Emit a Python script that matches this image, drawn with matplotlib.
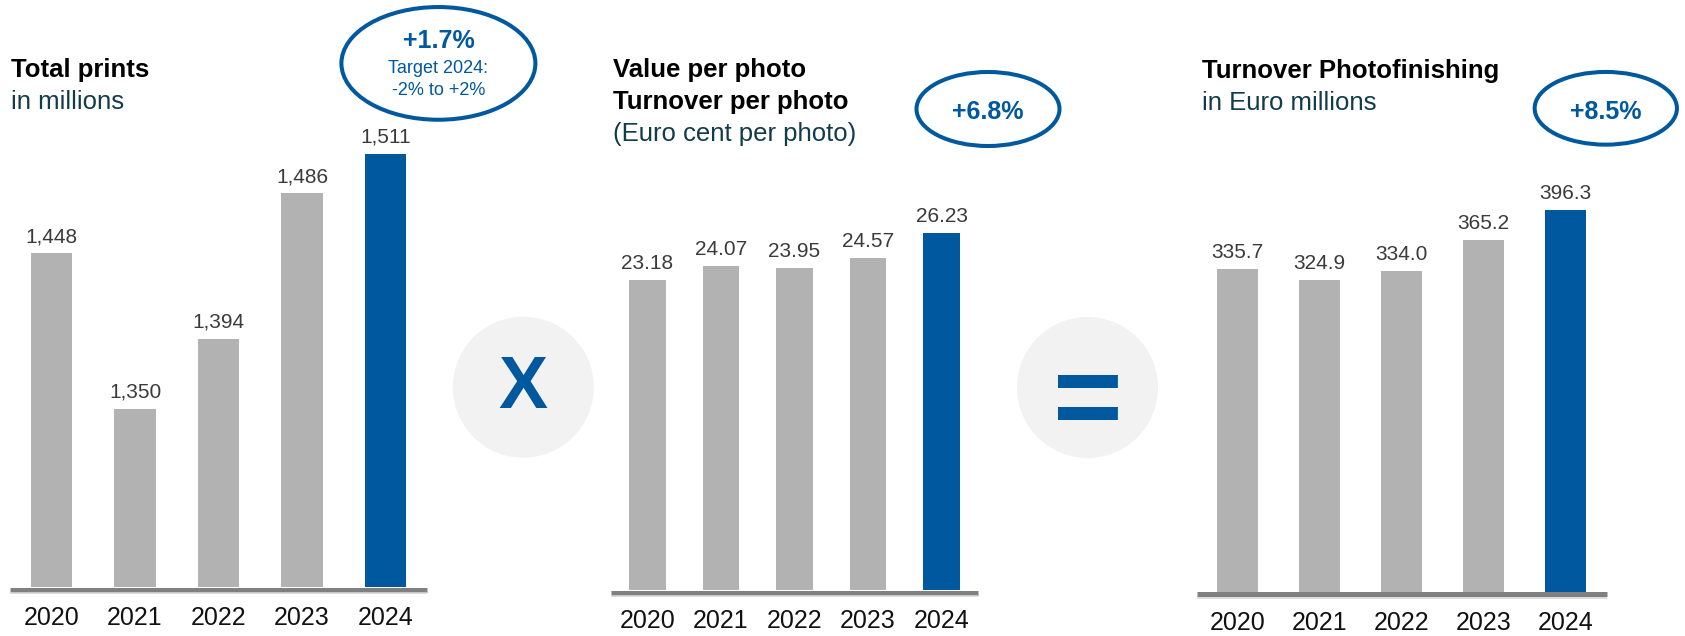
import matplotlib
matplotlib.use("Agg")
import matplotlib.pyplot as plt
from matplotlib import transforms
from matplotlib.patches import Ellipse

plt.rcParams['font.family'] = ['Liberation Sans', 'DejaVu Sans']

W, H = 1685, 636
GRAY = '#B2B2B2'
BLUE = '#00589E'
TEAL = '#123C4A'
LABEL = '#3B3B3B'

years = ['2020', '2021', '2022', '2023', '2024']
total_prints = [1448, 1350, 1394, 1486, 1511]
value_per_photo = [23.18, 24.07, 23.95, 24.57, 26.23]
turnover_photofinishing = [335.7, 324.9, 334.0, 365.2, 396.3]

growth_labels = ['+1.7%', '+6.8%', '+8.5%']
target_lines = ['Target 2024:', '-2% to +2%']


def add_panel(fig, values, fmt, left, right, baseline, ylim, top=120):
    """Draw one bar panel, positioned in figure pixels."""
    ax = fig.add_axes([left / W, 1 - baseline / H, (right - left) / W, (baseline - top) / H])
    ax.set_facecolor('none')
    x = list(range(len(values)))
    colors = [GRAY] * (len(values) - 1) + [BLUE]
    bars = ax.bar(x, values, width=0.5, color=colors, zorder=2)
    ax.bar_label(bars, labels=[fmt.format(v) for v in values], padding=5,
                 fontsize=15, color=LABEL)
    ax.set_xlim(-0.5, len(values) - 0.5)
    ax.set_ylim(*ylim)
    ax.set_xticks(x, years)
    ax.tick_params(axis='x', length=0, pad=14, labelsize=18, labelcolor='#111111')
    ax.set_yticks([])
    for s in ax.spines.values():
        s.set_visible(False)

    # Thick baseline sitting just under the bars
    trans = transforms.offset_copy(ax.transAxes, fig=fig, x=0, y=-2.5, units='dots')
    ax.plot([0, 1], [0, 0], transform=trans, color='#808080', lw=3.6,
            solid_capstyle='butt', clip_on=False, zorder=3)
    trans2 = transforms.offset_copy(ax.transAxes, fig=fig, x=0, y=-5.8, units='dots')
    ax.plot([0, 1], [0, 0], transform=trans2, color='#D6D6D6', lw=1.2,
            solid_capstyle='butt', clip_on=False, zorder=3)
    return ax


def add_ellipse(ax, cx, cy, w, h):
    ax.add_patch(Ellipse((cx, cy), w - 4, h - 4, fill=False, edgecolor=BLUE, lw=2.9))


def main():
    fig = plt.figure(figsize=(W / 100, H / 100), dpi=100)

    # Overlay in pixel coordinates for titles, ellipses and operators
    over = fig.add_axes([0, 0, 1, 1])
    over.set_xlim(0, W)
    over.set_ylim(H, 0)
    over.axis('off')

    # Titles
    ts = 18.5
    over.text(11, 77.3, 'Total prints', fontsize=ts, fontweight='bold', color='black')
    over.text(11, 109, 'in millions', fontsize=ts, color=TEAL)
    over.text(613, 76.7, 'Value per photo', fontsize=ts, fontweight='bold', color='black')
    over.text(613, 109.3, 'Turnover per photo', fontsize=ts, fontweight='bold', color='black')
    over.text(613, 141, '(Euro cent per photo)', fontsize=ts, color=TEAL)
    over.text(1202, 78.3, 'Turnover Photofinishing', fontsize=ts, fontweight='bold', color='black')
    over.text(1202, 110, 'in Euro millions', fontsize=ts, color=TEAL)

    # Growth ellipses
    add_ellipse(over, 438.4, 63.4, 198, 116.7)
    over.text(438.5, 48.3, growth_labels[0], fontsize=18, fontweight='bold', color=BLUE, ha='center')
    over.text(438.5, 72.7, target_lines[0], fontsize=13, color=BLUE, ha='center')
    over.text(438.5, 95, target_lines[1], fontsize=13, color=BLUE, ha='center')

    add_ellipse(over, 988, 109, 147, 78)
    over.text(988, 119.3, growth_labels[1], fontsize=18, fontweight='bold', color=BLUE, ha='center')

    add_ellipse(over, 1605.8, 108.3, 146.3, 76.7)
    over.text(1606, 119.3, growth_labels[2], fontsize=18, fontweight='bold', color=BLUE, ha='center')

    # Operator circles
    over.add_patch(Ellipse((523.3, 387.2), 141, 141, color='#F2F2F2', lw=0))
    over.text(523.3, 389, 'X', fontsize=53, fontweight='bold', color=BLUE, ha='center', va='center')
    over.add_patch(Ellipse((1087.5, 387.5), 141, 141, color='#F2F2F2', lw=0))
    over.text(1087.5, 406, '=', fontsize=86, fontweight='bold', color=BLUE, ha='center', va='center')

    # Bar panels
    add_panel(fig, total_prints, '{:,.0f}', 9.75, 427.25, 587, (1237.4, 1532.2))
    add_panel(fig, value_per_photo, '{:.2f}', 610.75, 978.25, 590, (3.18, 33.5))
    add_panel(fig, turnover_photofinishing, '{:.1f}', 1196.7, 1606.5, 591.7, (4.4, 488.7))

    fig.savefig('out.png', dpi=100)


if __name__ == "__main__":
    main()
